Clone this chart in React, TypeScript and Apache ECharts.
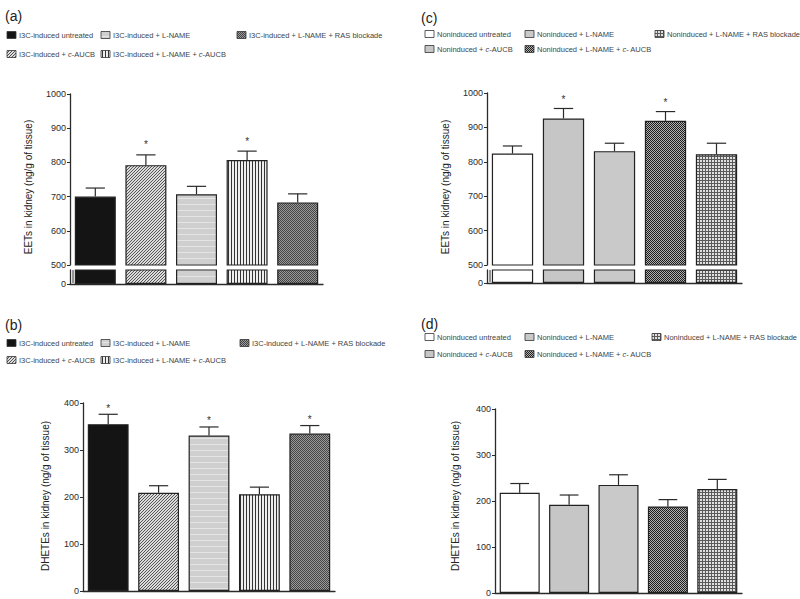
import React, { useEffect, useRef } from 'react';
import * as echarts from 'echarts';

// ---------------- data ----------------
const groupsInduced = [
  'I3C-induced untreated',
  'I3C-induced + c-AUCB',
  'I3C-induced + L-NAME',
  'I3C-induced + L-NAME + c-AUCB',
  'I3C-induced + L-NAME + RAS blockade',
];
const groupsNoninduced = [
  'Noninduced untreated',
  'Noninduced + c-AUCB',
  'Noninduced + L-NAME',
  'Noninduced + L-NAME + c- AUCB',
  'Noninduced + L-NAME + RAS blockade',
];

const eetsInducedMean = [700, 792, 707, 807, 683];
const eetsInducedSem = [25, 30, 23, 26, 25];
const eetsInducedSig = [0, 1, 0, 1, 0];

const dhetesInducedMean = [355, 209, 331, 206, 335];
const dhetesInducedSem = [21, 15, 18, 15, 17];
const dhetesInducedSig = [1, 0, 1, 0, 1];

const eetsNonMean = [824, 926, 831, 919, 822];
const eetsNonSem = [22, 29, 23, 27, 32];
const eetsNonSig = [0, 1, 0, 1, 0];

const dhetesNonMean = [218, 192, 235, 188, 226];
const dhetesNonSem = [20, 21, 22, 15, 21];
const dhetesNonSig = [0, 0, 0, 0, 0];

const eetsTicks = [0, 500, 600, 700, 800, 900, 1000];
const dhetesTicks = [0, 100, 200, 300, 400];

const panelLabels = ['(a)', '(b)', '(c)', '(d)'];
const eetsTitle = 'EETs in kidney (ng/g of tissue)';
const dhetesTitle = 'DHETEs in kidney (ng/g of tissue)';

// ---------------- styles / layout ----------------
function tile(w: number, h: number, bg: string, fg: string, px: number[][]) {
  const c = document.createElement('canvas');
  c.width = w;
  c.height = h;
  const ctx = c.getContext('2d')!;
  ctx.fillStyle = bg;
  ctx.fillRect(0, 0, w, h);
  ctx.fillStyle = fg;
  px.forEach(([x, y]) => ctx.fillRect(x, y, 1, 1));
  return { image: c, repeat: 'repeat', imageWidth: w, imageHeight: h } as any;
}

function makeFills() {
  const black = '#141414';
  const diag = tile(3, 3, '#dcdcdc', '#555555', [[0, 2], [1, 1], [2, 0]]);
  const hlines = tile(1, 6, '#cfcfcf', '#e4e4e4', [[0, 0]]);
  const vlines = tile(3, 1, '#eeeeee', '#333333', [[0, 0]]);
  const checkDark = tile(2, 2, '#9a9a9a', '#444444', [[0, 0], [1, 1]]);
  const white = '#ffffff';
  const gray1 = '#c6c6c6';
  const gray2 = '#c9c9c9';
  const checkBW = tile(2, 2, '#b0b0b0', '#1e1e1e', [[0, 0], [1, 1]]);
  const grid = tile(3, 3, '#e0e0e0', '#5a5a5a', [[0, 0], [1, 0], [2, 0], [0, 1], [0, 2]]);
  return {
    induced: [black, diag, hlines, vlines, checkDark],
    noninduced: [white, gray1, gray2, checkBW, grid],
  };
}

const layoutA = { axisX: 70, xEnd: 323, top: 94, brk: 265, lowerTop: 270, bottom: 284, label: [5, 16], title: [28, 187], legendX: [7, 101, 237], legendY: [35, 54], starGap: 10 };
const layoutC = { axisX: 487, xEnd: 742, top: 93, brk: 265, lowerTop: 270, bottom: 283, label: [421, 18], title: [445, 187], legendX: [425, 525, 655], legendY: [34, 49], starGap: 9 };
const layoutB = { axisX: 83, xEnd: 335, top: 403, bottom: 591, label: [5, 325], title: [45, 496], legendX: [7, 101, 240], legendY: [343, 360], starGap: 6 };
const layoutD = { axisX: 495, xEnd: 742, top: 409, bottom: 593, label: [421, 324], title: [455, 496], legendX: [425, 525, 652], legendY: [337, 354], starGap: 6 };

const AXIS_COLOR = '#2b2b2b';
const FONT = 'Liberation Sans, Arial, Helvetica, sans-serif';

function txt(text: string, size: number, color: string, align: string, extra: any = {}) {
  return Object.assign({
    text,
    fontSize: size,
    fontFamily: FONT,
    fill: color,
    textFill: color,
    align,
    textAlign: align,
    verticalAlign: 'middle',
    textVerticalAlign: 'middle',
  }, extra);
}

function buildOption() {
  const fills = makeFills();
  const grid: any[] = [];
  const xAxis: any[] = [];
  const yAxis: any[] = [];
  const series: any[] = [];
  const graphic: any[] = [];

  const idx = [0, 1, 2, 3, 4];

  const addAxes = (left: number, top: number, w: number, h: number, showX: boolean, y: any) => {
    const gi = grid.length;
    grid.push({ left, top, width: w, height: h, outerBoundsMode: 'none', containLabel: false });
    xAxis.push({
      gridIndex: gi,
      type: 'category',
      data: idx,
      axisLine: { show: showX, onZero: false, lineStyle: { color: AXIS_COLOR, width: 1.3 } },
      axisTick: { show: false },
      axisLabel: { show: false },
      splitLine: { show: false },
    });
    yAxis.push(Object.assign({
      gridIndex: gi,
      type: 'value',
      axisLine: { show: true, lineStyle: { color: AXIS_COLOR, width: 1.3 } },
      splitLine: { show: false },
    }, y));
    return gi;
  };

  const tickStyle = (vals: number[]) => ({
    axisTick: { show: true, length: 3, customValues: vals, lineStyle: { color: AXIS_COLOR, width: 1 } },
    axisLabel: {
      show: true, customValues: vals, fontSize: 9, color: '#2a2a2a', margin: 4, fontFamily: FONT,
      formatter: (v: number) => String(v),
    },
  });

  const barSeries = (gi: number, means: number[], fill: any[]) => ({
    type: 'bar',
    xAxisIndex: gi,
    yAxisIndex: gi,
    barWidth: '81%',
    clip: true,
    data: means.map((v, i) => ({
      value: v,
      itemStyle: { color: fill[i], borderColor: '#222', borderWidth: 1.2 },
    })),
    silent: true,
  });

  const errSeries = (gi: number, means: number[], sem: number[], sig: number[], starGap: number) => ({
    type: 'custom',
    xAxisIndex: gi,
    yAxisIndex: gi,
    clip: false,
    silent: true,
    z: 5,
    encode: { x: 0, y: 1 },
    data: means.map((m, i) => [i, m, sem[i], sig[i]]),
    renderItem: (params: any, api: any) => {
      const i = api.value(0);
      const m = api.value(1);
      const s = api.value(2);
      const g = api.value(3);
      const base = api.coord([i, m]);
      const top = api.coord([i, m + s]);
      const half = api.size([1, 0])[0] * 0.19;
      const ls = { stroke: '#2a2a2a', lineWidth: 1.2 };
      const children: any[] = [
        { type: 'line', shape: { x1: base[0], y1: base[1], x2: top[0], y2: top[1] }, style: ls },
        { type: 'line', shape: { x1: top[0] - half, y1: top[1], x2: top[0] + half, y2: top[1] }, style: ls },
      ];
      if (g) {
        children.push({
          type: 'text',
          x: top[0],
          y: top[1] - starGap,
          style: txt('*', 10, '#333333', 'center'),
        });
      }
      return { type: 'group', children };
    },
  });

  const addLegendAndLabels = (L: any, label: string, title: string, groups: string[], fill: any[]) => {
    graphic.push({
      type: 'text', x: L.label[0], y: L.label[1],
      style: txt(label, 14, '#222222', 'left'),
    });
    graphic.push({
      type: 'text', x: L.title[0], y: L.title[1], rotation: Math.PI / 2,
      style: txt(title, 10, '#222222', 'center'),
    });
    groups.forEach((name, i) => {
      const col = Math.floor(i / 2);
      const row = i % 2;
      const x = L.legendX[col];
      const y = L.legendY[row];
      graphic.push({
        type: 'rect',
        shape: { x, y: y - 3.5, width: 9, height: 7 },
        style: { fill: fill[i], stroke: '#333', lineWidth: 0.8 },
      });
      graphic.push({
        type: 'text', x: x + 12, y,
        style: txt(name.replace(/\+ c-/, '+ {i|c}-'), 7.5, '#444444', 'left', {
          rich: {
            i: { fontStyle: 'italic', fontSize: 7.5, fontFamily: FONT, fill: '#444444', textFill: '#444444', color: '#444444' },
          },
        }),
      });
    });
  };

  const brokenPanel = (L: any, means: number[], sem: number[], sig: number[], fill: any[]) => {
    const w = L.xEnd - L.axisX;
    const upperVals = eetsTicks.filter((v) => v >= 500);
    const gU = addAxes(L.axisX, L.top, w, L.brk - L.top, false, Object.assign({ min: 500, max: 1000, interval: 100 }, tickStyle(upperVals)));
    const gL = addAxes(L.axisX, L.lowerTop, w, L.bottom - L.lowerTop, true, Object.assign({ min: 0, max: 10, interval: 10 }, tickStyle(eetsTicks.filter((v) => v < 500))));
    series.push(barSeries(gU, means, fill));
    series.push(barSeries(gL, means, fill));
    series.push(errSeries(gU, means, sem, sig, L.starGap));
    // break marker: a second short line beside the lower axis segment
    graphic.push({
      type: 'line',
      shape: { x1: L.axisX + 3, y1: L.lowerTop, x2: L.axisX + 3, y2: L.bottom - 1 },
      style: { stroke: AXIS_COLOR, lineWidth: 1 },
    });
  };

  const fullPanel = (L: any, means: number[], sem: number[], sig: number[], fill: any[]) => {
    const w = L.xEnd - L.axisX;
    const g = addAxes(L.axisX, L.top, w, L.bottom - L.top, true, Object.assign({ min: 0, max: 400, interval: 100 }, tickStyle(dhetesTicks)));
    series.push(barSeries(g, means, fill));
    series.push(errSeries(g, means, sem, sig, L.starGap));
  };

  brokenPanel(layoutA, eetsInducedMean, eetsInducedSem, eetsInducedSig, fills.induced);
  brokenPanel(layoutC, eetsNonMean, eetsNonSem, eetsNonSig, fills.noninduced);
  fullPanel(layoutB, dhetesInducedMean, dhetesInducedSem, dhetesInducedSig, fills.induced);
  fullPanel(layoutD, dhetesNonMean, dhetesNonSem, dhetesNonSig, fills.noninduced);

  addLegendAndLabels(layoutA, panelLabels[0], eetsTitle, groupsInduced, fills.induced);
  addLegendAndLabels(layoutB, panelLabels[1], dhetesTitle, groupsInduced, fills.induced);
  addLegendAndLabels(layoutC, panelLabels[2], eetsTitle, groupsNoninduced, fills.noninduced);
  addLegendAndLabels(layoutD, panelLabels[3], dhetesTitle, groupsNoninduced, fills.noninduced);

  return {
    animation: false,
    backgroundColor: '#ffffff',
    textStyle: { fontFamily: FONT },
    grid,
    xAxis,
    yAxis,
    series,
    graphic: { elements: graphic },
  };
}

export default function App() {
  const ref = useRef<HTMLDivElement>(null);
  useEffect(() => {
    if (!ref.current) return;
    const chart = echarts.init(ref.current, undefined, { renderer: 'svg' });
    chart.setOption(buildOption() as any);
    return () => chart.dispose();
  }, []);
  return (
    <div
      ref={ref}
      style={{ position: 'fixed', left: 0, top: 0, width: 800, height: 599, background: '#fff' }}
    />
  );
}
